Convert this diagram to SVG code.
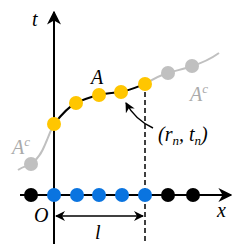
<svg xmlns="http://www.w3.org/2000/svg" width="249" height="249" viewBox="0 0 249 249">
<defs>
<style>
.ax{stroke:#000;stroke-width:2;fill:none}
.lab{font-family:'Liberation Serif','Times New Roman',serif;font-style:italic;font-size:20px;fill:#000}
.gl{font-family:'Liberation Serif','Times New Roman',serif;font-style:italic;font-size:20px;fill:#aaa}
.y{fill:#ffc600}
.g{fill:#c0c0c0}
.b{fill:#0a74e0}
.k{fill:#000}
</style>
<marker id="ah" viewBox="0 0 10 10" refX="9" refY="5" markerWidth="10" markerHeight="10" markerUnits="userSpaceOnUse" orient="auto-start-reverse">
<path d="M0,0 L10,5 L0,10 L3,5 Z" fill="#000"/>
</marker>
<marker id="ahb" viewBox="0 0 10 10" refX="9" refY="5" markerWidth="14" markerHeight="14" markerUnits="userSpaceOnUse" orient="auto-start-reverse">
<path d="M0,0 L10,5 L0,10 L3,5 Z" fill="#000"/>
</marker>
</defs>
<g id="connectors">
<path d="M18,170 C24,166 28,166 31,164 C42,156 44,146 47,140 C50,132 52,128 54,124" stroke="#c0c0c0" stroke-width="2" fill="none"/>
<path d="M145,84 C155,78 160,75 168,73 C178,70 184,69 192,66 C202,63 212,58 219,53" stroke="#c0c0c0" stroke-width="2" fill="none"/>
<path d="M54,124 C62,114 68,107 76,103 C84,99 91,97 99,95 C107,93 114,93 121,92 C130,90 137,87 145,84" class="ax"/>
<line x1="145" y1="84" x2="145" y2="244" stroke="#000" stroke-width="1.5" stroke-dasharray="5,3"/>
<line x1="54" y1="244" x2="54" y2="12" class="ax" marker-end="url(#ahb)"/>
<line x1="20" y1="195" x2="231" y2="195" class="ax" marker-end="url(#ahb)"/>
<line x1="56" y1="216" x2="143" y2="216" stroke="#000" stroke-width="1.5" marker-start="url(#ah)" marker-end="url(#ah)"/>
<path d="M153,128 C140,122 132,114 126,103" stroke="#000" stroke-width="1.5" fill="none" marker-end="url(#ah)"/>
</g>
<g id="dots-x">
<circle cx="31" cy="195" r="7" class="k"/>
<circle cx="54" cy="195" r="7" class="b"/>
<circle cx="77" cy="195" r="7" class="b"/>
<circle cx="99" cy="195" r="7" class="b"/>
<circle cx="122" cy="195" r="7" class="b"/>
<circle cx="145" cy="195" r="7" class="b"/>
<circle cx="168" cy="195" r="7" class="k"/>
<circle cx="193" cy="195" r="7" class="k"/>
</g>
<g id="dots-A">
<circle cx="54" cy="124" r="7" class="y"/>
<circle cx="76" cy="103" r="7" class="y"/>
<circle cx="99" cy="95" r="7" class="y"/>
<circle cx="121" cy="92" r="7" class="y"/>
<circle cx="145" cy="84" r="7" class="y"/>
</g>
<g id="dots-Ac">
<circle cx="31" cy="164" r="7" class="g"/>
<circle cx="168" cy="73" r="7" class="g"/>
<circle cx="192" cy="66" r="7" class="g"/>
</g>
<g id="labels">
<text x="32" y="26" class="lab">t</text>
<text x="91" y="84" class="lab">A</text>
<text x="190" y="101" class="gl">A<tspan font-size="13" dy="-8">c</tspan></text>
<text x="12" y="154" class="gl">A<tspan font-size="13" dy="-8">c</tspan></text>
<text x="34" y="222" class="lab">O</text>
<text x="217" y="217" class="lab">x</text>
<text x="95" y="239" class="lab">l</text>
<text x="158" y="141" class="lab" font-style="normal">(<tspan font-style="italic">r</tspan><tspan font-style="italic" font-size="13" dy="4">n</tspan><tspan dy="-4">, </tspan><tspan font-style="italic">t</tspan><tspan font-style="italic" font-size="13" dy="4">n</tspan><tspan dy="-4">)</tspan></text>
</g>
</svg>
